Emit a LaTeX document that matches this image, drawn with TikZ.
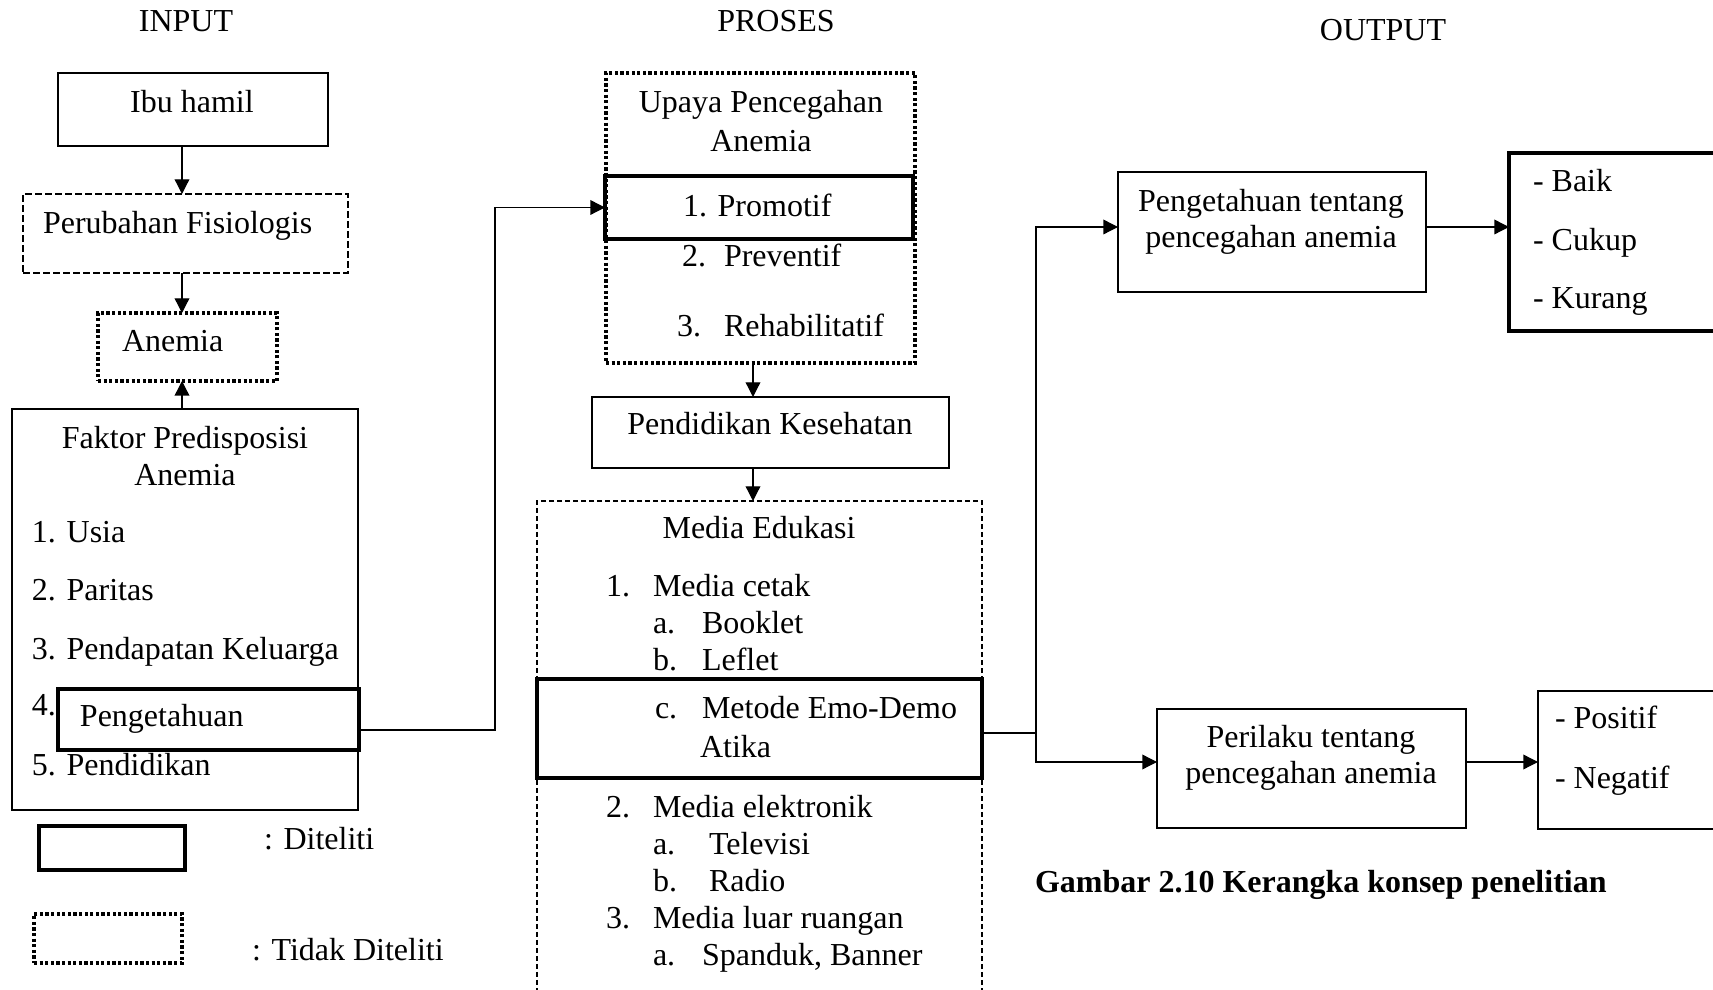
\documentclass[tikz,border=0pt]{standalone}
\usepackage{fontspec}
\setmainfont{Liberation Serif}
\usetikzlibrary{arrows.meta,fit}
\begin{document}
\begin{tikzpicture}[x=0.375pt,y=-0.375pt,
  every node/.style={font=\fontsize{12}{14}\selectfont},
  txt/.style={inner sep=0pt,outer sep=0pt},
  tc/.style={txt,anchor=base},
  tw/.style={txt,anchor=base west},
  bx/.style={inner sep=0pt,outer sep=0pt,rectangle},
  thinbox/.style={bx,draw,line width=0.5pt},
  thickbox/.style={bx,draw,line width=1.5pt},
  dotbox/.style={bx,draw,line width=1.3pt,dash pattern=on 1.2pt off 0.9pt},
  dashbox/.style={bx,draw,line width=0.5pt,dash pattern=on 2.5pt off 1.25pt},
  dashbox2/.style={bx,draw,line width=0.5pt,dash pattern=on 1.9pt off 1.1pt},
  conn/.style={line width=0.5pt},
  arr/.style={conn,-{Triangle[length=5.5pt,width=5.5pt]}}]
\useasboundingbox (0,0) rectangle (1713,990);
\clip (0,0) rectangle (1713,990);
\fill[white] (0,0) rectangle (1713,990);

% headers
\node[tc] (hin) at (186,32) {INPUT};
\node[tc] (hpr) at (776,32) {PROSES};
\node[tc] (hout) at (1383,41) {OUTPUT};

% INPUT column
\node[thinbox,fit={(58,73)(328,146)}] (ibu) {};
\node[tc] (tibu) at (192,113) {Ibu hamil};
\node[dashbox,fit={(23,194)(348,273)}] (perub) {};
\node[tw] (tperub) at (43,234) {Perubahan Fisiologis};
\node[dotbox,fit={(98,313)(277,381)}] (anem) {};
\node[tw] (tanem) at (122,352) {Anemia};
\node[thinbox,fit={(12,409)(358,810)}] (faktor) {};
\node[tc] (tf1) at (185,449) {Faktor Predisposisi};
\node[tc] (tf2) at (185,486) {Anemia};
\node[tw] (tf3) at (32,543) {1. Usia};
\node[tw] (tf4) at (32,601) {2. Paritas};
\node[tw] (tf5) at (32,660) {3. Pendapatan Keluarga};
\node[tw] (tf6) at (32,716) {4.};
\node[tw] (tf8) at (32,776) {5. Pendidikan};
\node[thickbox,fill=white,fit={(58,689)(359,750)}] (peng) {};
\node[tw] (tf7) at (80,727) {Pengetahuan};

\coordinate (ax) at (182,0);
\draw[arr] (ibu.south -| ax) -- (perub.north -| ax);
\draw[arr] (perub.south -| ax) -- (anem.north -| ax);
\draw[arr] (faktor.north -| ax) -- (anem.south -| ax);

% legend
\node[thickbox,fit={(39,826)(185,870)}] (legA) {};
\node[tw] (tlegA) at (264,850) {: Diteliti};
\node[dotbox,fit={(34,914)(182,963)}] (legB) {};
\node[tw] (tlegB) at (252,961) {: Tidak Diteliti};

% PROSES column
\node[dotbox,fit={(606,73)(915,363)}] (upaya) {};
\node[tc] (tu1) at (761,113) {Upaya Pencegahan};
\node[tc] (tu2) at (761,152) {Anemia};
\node[thickbox,fit={(605,176)(913,239)}] (promotif) {};
\node[tw] (tu3) at (683,217) {1. Promotif};
\node[tw] (tu4a) at (682,267) {2.};
\node[tw] (tu4b) at (724,267) {Preventif};
\node[tw] (tu5a) at (677,337) {3.};
\node[tw] (tu5b) at (724,337) {Rehabilitatif};

\node[thinbox,fit={(592,397)(949,468)}] (pendkes) {};
\node[tc] (tpk) at (770,435) {Pendidikan Kesehatan};

\node[dashbox2,fit={(537,501)(982,1060)}] (media) {};
\node[thickbox,fit={(537,679)(982,778)}] (metode) {};
\node[tc] (tm0) at (759,539) {Media Edukasi};
\node[tw] (tm1a) at (606,597) {1.};
\node[tw] (tm1b) at (653,597) {Media cetak};
\node[tw] (tm2a) at (653,634) {a.};
\node[tw] (tm2b) at (702,634) {Booklet};
\node[tw] (tm3a) at (653,671) {b.};
\node[tw] (tm3b) at (702,671) {Leflet};
\node[tw] (tm4a) at (655,719) {c.};
\node[tw] (tm4b) at (702,719) {Metode Emo-Demo};
\node[tw] (tm5) at (700,758) {Atika};
\node[tw] (tm6a) at (606,818) {2.};
\node[tw] (tm6b) at (653,818) {Media elektronik};
\node[tw] (tm7a) at (653,855) {a.};
\node[tw] (tm7b) at (709,855) {Televisi};
\node[tw] (tm8a) at (653,892) {b.};
\node[tw] (tm8b) at (709,892) {Radio};
\node[tw] (tm9a) at (606,929) {3.};
\node[tw] (tm9b) at (653,929) {Media luar ruangan};
\node[tw] (tm10a) at (653,966) {a.};
\node[tw] (tm10b) at (702,966) {Spanduk, Banner};

\coordinate (ax2) at (753,0);
\draw[arr] (upaya.south -| ax2) -- (pendkes.north -| ax2);
\draw[arr] (pendkes.south -| ax2) -- (media.north -| ax2);

\coordinate (c1) at (495,730);
\draw[arr] (peng.east |- c1) -- (c1) -- (c1 |- promotif.west) -- (promotif.west);

% OUTPUT column
\node[thinbox,fit={(1118,172)(1426,292)}] (ptent) {};
\node[tc] (tp1) at (1271,212) {Pengetahuan tentang};
\node[tc] (tp2) at (1271,248) {pencegahan anemia};
\node[thickbox,fit={(1509,153)(1760,331)}] (baik) {};
\node[tw] (tb1) at (1533,192) {- Baik};
\node[tw] (tb2) at (1533,251) {- Cukup};
\node[tw] (tb3) at (1533,309) {- Kurang};

\node[thinbox,fit={(1157,709)(1466,828)}] (perilaku) {};
\node[tc] (tr1) at (1311,748) {Perilaku tentang};
\node[tc] (tr2) at (1311,784) {pencegahan anemia};
\node[thinbox,fit={(1538,691)(1760,829)}] (positif) {};
\node[tw] (tq1) at (1555,729) {- Positif};
\node[tw] (tq2) at (1555,789) {- Negatif};

\coordinate (c2) at (1036,733);
\coordinate (c3) at (1036,227);
\coordinate (c4) at (1036,762);
\draw[conn] (metode.east |- c2) -- (c2);
\draw[arr] (c2) -- (c3) -- (ptent.west |- c3);
\draw[arr] (c2) -- (c4) -- (perilaku.west |- c4);
\draw[arr] (ptent.east |- c3) -- (baik.west |- c3);
\draw[arr] (perilaku.east |- c4) -- (positif.west |- c4);

\node[tw,font=\fontsize{12}{14}\selectfont\bfseries] (cap) at (1035,893) {Gambar 2.10 Kerangka konsep penelitian};
\end{tikzpicture}
\end{document}
